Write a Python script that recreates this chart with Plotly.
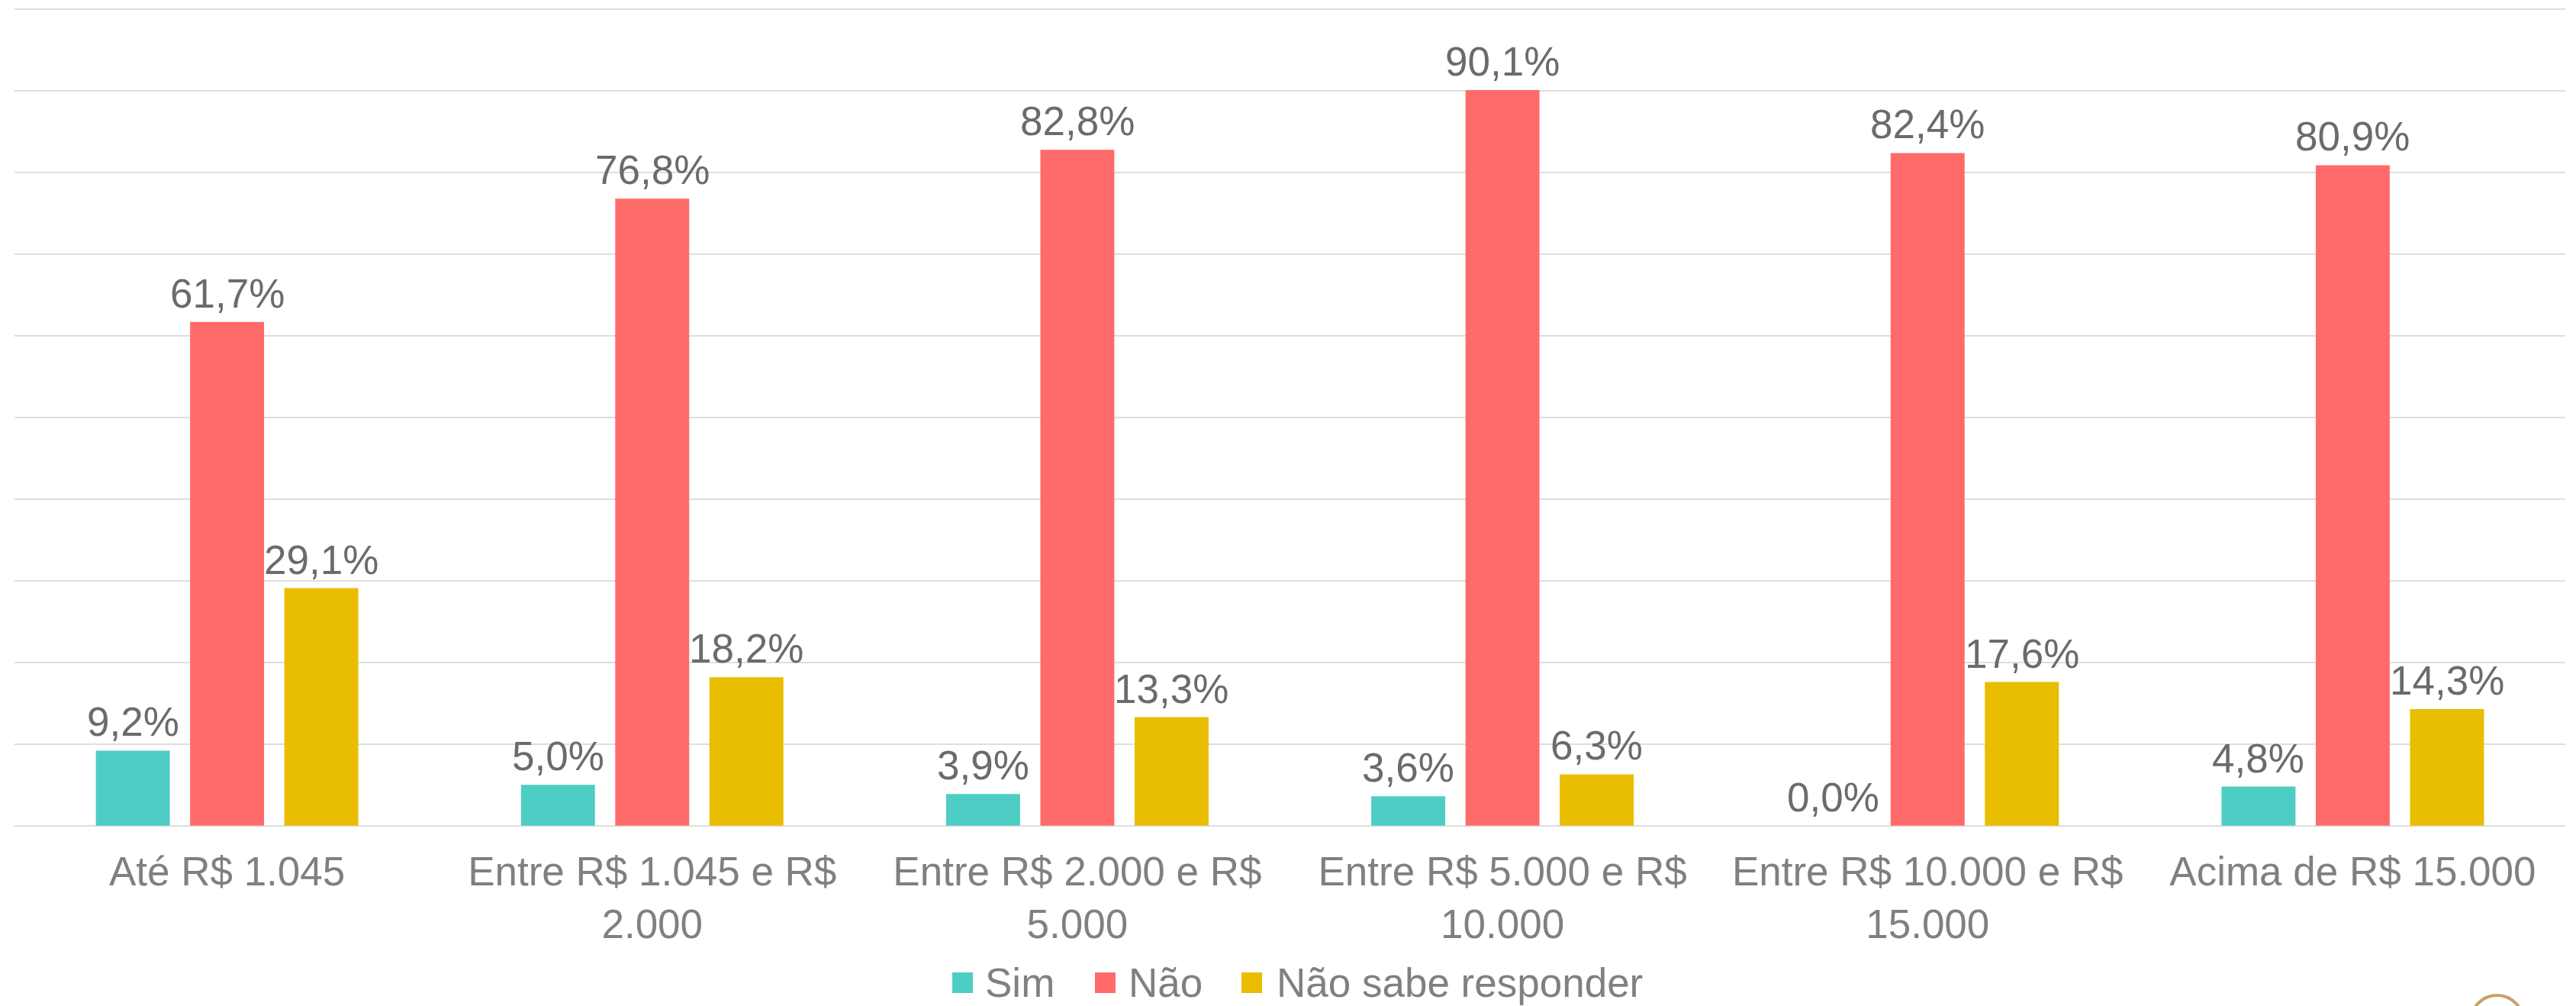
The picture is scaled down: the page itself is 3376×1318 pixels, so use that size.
import plotly.graph_objects as go

categories = [
    "Até R$ 1.045",
    "Entre R$ 1.045 e R$<br>2.000",
    "Entre R$ 2.000 e R$<br>5.000",
    "Entre R$ 5.000 e R$<br>10.000",
    "Entre R$ 10.000 e R$<br>15.000",
    "Acima de R$ 15.000",
]
series_names = ["Sim", "Não", "Não sabe responder"]
sim = [9.2, 5.0, 3.9, 3.6, 0.0, 4.8]
nao = [61.7, 76.8, 82.8, 90.1, 82.4, 80.9]
nao_sabe = [29.1, 18.2, 13.3, 6.3, 17.6, 14.3]
colors = ["#4ECDC4", "#FF6B6B", "#E9BE00"]

FONT = "Liberation Sans, Arial, sans-serif"
W, H = 3376, 1318
L, R, T, B = 19, 14, 10, 234
PW, PH = W - L - R, H - T - B
BARGAP = 0.335
BARGROUPGAP = 0.215


def fmt(v):
    return f"{v:.1f}%".replace(".", ",")


def px_x(px):  # screen pixel -> paper coordinate
    return (px - L) / PW


def px_y(py):
    return (H - B - py) / PH


fig = go.Figure()
all_series = [sim, nao, nao_sabe]
for name, vals, col in zip(series_names, all_series, colors):
    fig.add_trace(go.Bar(
        name=name,
        x=categories,
        y=vals,
        marker=dict(color=col, line=dict(width=0)),
        showlegend=False,
    ))

# value labels above each bar (placed through the category/value axes)
slot = (1 - BARGAP) / len(all_series)
for j, vals in enumerate(all_series):
    off = (j - (len(all_series) - 1) / 2) * slot
    for i, v in enumerate(vals):
        fig.add_annotation(
            x=i + off, y=v, xref="x", yref="y",
            text=fmt(v), showarrow=False,
            xanchor="center", yanchor="bottom", yshift=6,
            font=dict(family=FONT, size=53, color="#6B6B6B"),
        )

# legend (large square keys like the original)
leg_sq_x = [1248, 1435, 1627]
leg_txt_x = [1289, 1477, 1671]
for name, col, sx, tx in zip(series_names, colors, leg_sq_x, leg_txt_x):
    fig.add_shape(type="rect", xref="paper", yref="paper",
                  x0=px_x(sx), x1=px_x(sx + 27), y0=px_y(1301), y1=px_y(1274),
                  fillcolor=col, line=dict(width=0))
    fig.add_annotation(x=px_x(tx), y=px_y(1287), xref="paper", yref="paper",
                       text=name, showarrow=False, xanchor="left", yanchor="middle",
                       font=dict(family=FONT, size=53, color="#808080"))

fig.update_layout(
    width=W,
    height=H,
    margin=dict(l=L, r=R, t=T, b=B),
    paper_bgcolor="white",
    plot_bgcolor="white",
    barmode="group",
    bargap=BARGAP,
    bargroupgap=BARGROUPGAP,
    font=dict(family=FONT, size=53, color="#808080"),
    showlegend=False,
    hovermode=False,
    xaxis=dict(
        type="category",
        tickangle=0,
        showgrid=False,
        showline=False,
        zeroline=False,
        ticks="",
        ticklabelstandoff=22,
        tickfont=dict(family=FONT, size=53, color="#808080"),
    ),
    yaxis=dict(
        range=[-0.2, 100.2],
        tick0=0,
        dtick=10,
        showticklabels=False,
        showgrid=True,
        gridcolor="#DEDEDE",
        gridwidth=2,
        zeroline=False,
        showline=False,
        ticks="",
    ),
)

# partial logo circle at bottom right corner
fig.add_shape(type="circle", xref="paper", yref="paper",
              x0=px_x(3238), x1=px_x(3307), y0=px_y(1373), y1=px_y(1304),
              line=dict(color="#C8A063", width=4), fillcolor="rgba(0,0,0,0)")

fig.write_html("out.html",
               config={"displayModeBar": False},
               post_script="document.body.style.margin='0';document.body.style.overflow='hidden';")
